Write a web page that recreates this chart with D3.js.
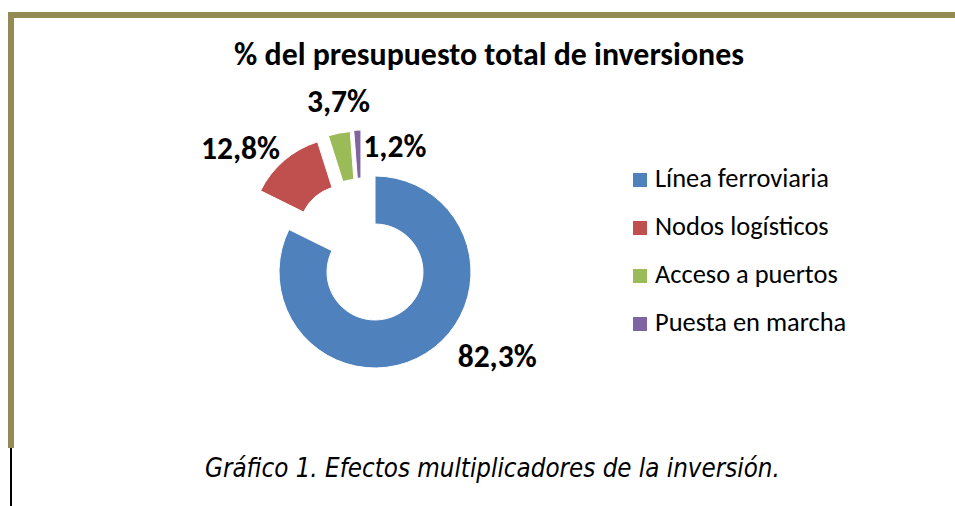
<!DOCTYPE html>
<html>
<head>
<meta charset="utf-8">
<script src="https://cdn.jsdelivr.net/npm/d3@7"></script>
<style>
  html, body { margin: 0; padding: 0; background: #fff; }
  svg { display: block; }
</style>
</head>
<body>
<svg id="chart" width="955" height="506"></svg>
<script>
// ---- Data ----
const categories = ["Línea ferroviaria", "Nodos logísticos", "Acceso a puertos", "Puesta en marcha"];
const values = [82.3, 12.8, 3.7, 1.2];
const valueLabels = ["82,3%", "12,8%", "3,7%", "1,2%"];
const exploded = [false, true, true, true];
const colors = ["#4F81BD", "#C0504D", "#9BBB59", "#8064A2"];
const titleText = "% del presupuesto total de inversiones";
const captionText = "Gráfico 1. Efectos multiplicadores de la inversión.";

// ---- Layout ----
const W = 955, H = 506;
const cx = 375, cy = 272, outerR = 96, innerR = 48;
const explodeDist = outerR * 0.5;
const borderColor = "#948A54";
// label placement relative to each slice's outer-mid point
const labelLayout = [
  {anchor: "start", dx: 32, dy: 13},
  {anchor: "end", dx: -4, dy: -1.5},
  {anchor: "middle", dx: -0.7, dy: -21},
  {anchor: "start", dx: 6, dy: 27}
];

const svg = d3.select("#chart");
const titleFont = "Carlito, Calibri, Lato, 'Open Sans', sans-serif";

function fitWidth(sel, target) {
  const base = parseFloat(sel.attr("font-size"));
  const w = sel.node().getComputedTextLength();
  sel.attr("font-size", base * target / w);
}

// ---- Frame ----
svg.append("rect").attr("x", 8).attr("y", 12).attr("width", W - 8).attr("height", 6).attr("fill", borderColor);
svg.append("rect").attr("x", 8).attr("y", 12).attr("width", 6).attr("height", 436).attr("fill", borderColor);
svg.append("line").attr("x1", 11).attr("x2", 11).attr("y1", 448).attr("y2", H)
  .attr("stroke", "#000").attr("stroke-width", 2);

// ---- Title ----
const title = svg.append("text")
  .attr("x", 489).attr("y", 65)
  .attr("text-anchor", "middle")
  .attr("font-family", titleFont).attr("font-weight", "bold")
  .attr("font-size", 26).attr("fill", "#000")
  .text(titleText);
fitWidth(title, 510);

// ---- Donut ----
const pie = d3.pie().sort(null).value(d => d)(values);
const arc = d3.arc().innerRadius(innerR).outerRadius(outerR);

const expl = pie.filter((p, i) => exploded[i]);
const groupMid = expl.length ? (d3.min(expl, p => p.startAngle) + d3.max(expl, p => p.endAngle)) / 2 : 0;

const g = svg.append("g").attr("transform", `translate(${cx},${cy})`);

pie.forEach((p, i) => {
  const mid = (p.startAngle + p.endAngle) / 2;
  let ox = 0, oy = 0;
  if (exploded[i]) {
    const dirA = (mid + groupMid) / 2;
    ox = explodeDist * Math.sin(dirA);
    oy = -explodeDist * Math.cos(dirA);
  }
  g.append("path")
    .attr("d", arc(p))
    .attr("transform", `translate(${ox},${oy})`)
    .attr("fill", colors[i])
    .attr("stroke", "#fff").attr("stroke-width", 1);

  const px = ox + outerR * Math.sin(mid);
  const py = oy - outerR * Math.cos(mid);
  const L = labelLayout[i];
  g.append("text")
    .attr("class", "vlabel")
    .attr("x", px + L.dx).attr("y", py + L.dy)
    .attr("text-anchor", L.anchor)
    .attr("font-family", titleFont).attr("font-weight", "bold")
    .attr("font-size", 28).attr("fill", "#000")
    .text(valueLabels[i]);
});
const vl = g.selectAll("text.vlabel");
const w0 = vl.filter((d, i) => i === 0).node().getComputedTextLength();
vl.attr("font-size", 28 * 79 / w0);

// ---- Legend ----
const legend = svg.append("g");
categories.forEach((c, i) => {
  const baseY = 187 + i * 48;
  legend.append("rect")
    .attr("x", 633).attr("y", baseY - 14).attr("width", 14).attr("height", 14)
    .attr("fill", colors[i]);
  legend.append("text")
    .attr("class", "leg")
    .attr("x", 655).attr("y", baseY)
    .attr("font-family", titleFont)
    .attr("font-size", 21).attr("fill", "#000")
    .text(c);
});
const lw = legend.select("text.leg").node().getComputedTextLength();
legend.selectAll("text.leg").attr("font-size", 21 * 174 / lw);

// ---- Caption ----
const cap = svg.append("text")
  .attr("x", 205).attr("y", 477)
  .attr("font-family", "'DejaVu Sans Condensed', Tahoma, Verdana, 'DejaVu Sans', sans-serif")
  .attr("font-stretch", "condensed")
  .attr("font-style", "italic")
  .attr("font-size", 22).attr("fill", "#000")
  .text(captionText);
fitWidth(cap, 575);
</script>
</body>
</html>
